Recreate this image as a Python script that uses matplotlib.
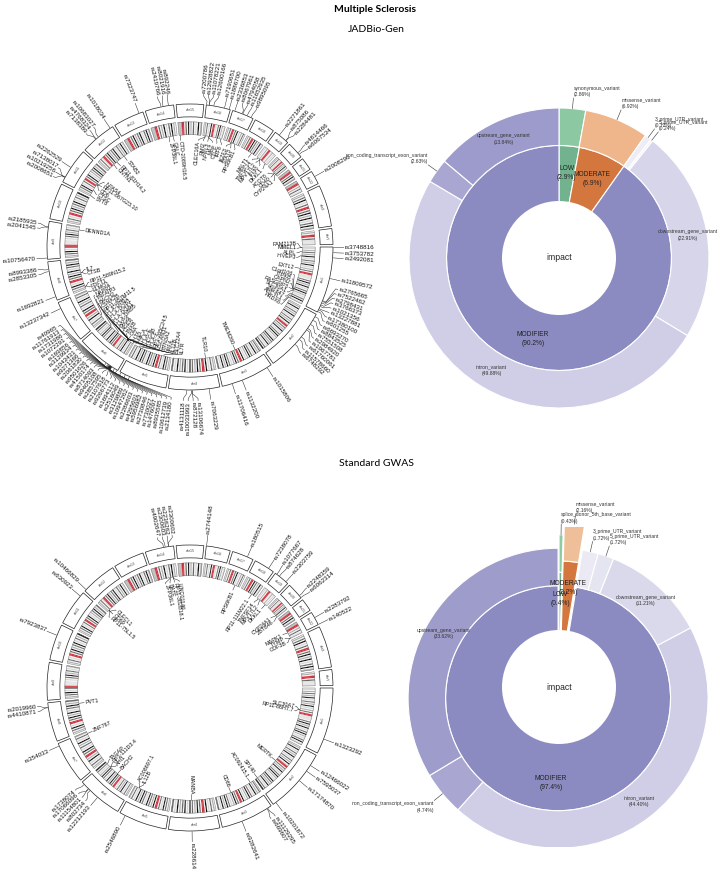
import numpy as np
import matplotlib.pyplot as plt
from matplotlib.patches import Wedge, Circle

plt.rcParams['font.family'] = ['Liberation Sans', 'DejaVu Sans']

# ---------------- genome (hg19, Mb) ----------------
chrom_names = ['chr%d' % i for i in range(1, 23)] + ['chrX', 'chrY']
chrom_len = [249.2, 243.2, 198.0, 191.2, 180.9, 171.1, 159.1, 146.4, 141.2, 135.5,
             135.0, 133.9, 115.2, 107.3, 102.5, 90.4, 81.2, 78.1, 59.1, 63.0,
             48.1, 51.3, 155.3, 59.4]
# rough G-banding, one char per equal slice
chrom_bands = [
    'wawbwcwbwdwawcwbwdwawbwcwrrvvvvwcwdwbwdwawcwdwbwawcwdwa',
    'wbwdwawcwbwdwawcwbwdwarrwcwbwdwawcwdwbwawdwcwbwdwawcwd',
    'wcwbwdwawcwdwbwawdwrrwcwdwbwawcwdwbwdwawc',
    'wbwcwawdwrrwcwdwbwcwdwawdwcwbwdwawc',
    'wbwcwdwawcwrrwdwbwcwdwawcwdwbwdwawcwb',
    'wbwcwawdwbwcwawrrwcwdwbwdwawcwdwbwawcwd',
    'wbwcwawdwbwrrwcwdwawcwbwdwawcwb',
    'wbwcwdwawrrwcwdwbwdwawcwdwbwc',
    'wbwcwdwawcrrvvvvwawcwdwbwcwawb',
    'wbwcwawrrwcwdwbwcwdwawcwbwd',
    'wbwcwdwawcwrrwcwdwawbwcwdwbwc',
    'wbwcwarrwcwdwbwcwdwawcwbwdwa',
    'sssrrwcwdwbwcwdwawcwdwb',
    'sssrrwcwbwdwawcwdwbw',
    'sssrrwcwdwbwcwawdwb',
    'wbwcwawdwrrvvwcwdwbwa',
    'wbwcwrrwcwdwawbwcw',
    'wbwcwrrwdwcwbwdwa',
    'wawbwrrvwbwaw',
    'wbwcwawrrwcwbwdwa',
    'ssrrwcwdwb',
    'ssrrwbwcwa',
    'wbwcwdwawcwrrwcwdwbwdwawcwdwb',
    'wbwrrwcvvvv',
]
band_colors = {'w': '#f6f6f6', 'a': '#d6d6d6', 'b': '#ababab', 'c': '#686868',
               'd': '#0a0a0a', 'r': '#d0303a', 'v': '#e4e4e4', 's': '#bdbdbd'}

# ---------------- JADBio-Gen ----------------
jad_snps = [
    (1, 2.5, 'rs3748816'), (1, 21.0, 'rs3753782'), (1, 40.0, 'rs2492081'), (1, 117.0, 'rs11809572'),
    (1, 203, 'rs2765665'), (1, 206, 'rs7522462'), (1, 212, 'rs2798431'), (1, 220, 'rs3766373'),
    (1, 226, 'rs1021356'), (1, 235, 'rs13227881'), (1, 240, 'rs17380100'), (1, 247, 'rs601255'),
    (2, 10, 'rs6693270'), (2, 25, 'rs8843525'), (2, 43, 'rs7551508'), (2, 61, 'rs2984920'),
    (2, 68, 'rs1967781'), (2, 100, 'rs61760061'), (2, 112, 'rs11578660'), (2, 136, 'rs6748292'),
    (3, 18, 'rs1015806'), (3, 121, 'rs1132200'), (3, 160, 'rs11706416'), (4, 40, 'rs7063229'),
    (4, 103, 'rs13106674'), (4, 103.5, 'rs872128'), (4, 106, 'rs10033993'), (4, 123, 'rs4131118'),
    (5, 141, 'rs2134180'), (5, 158, 'rs10612739'), (5, 176, 'rs8935585'), (6, 3, 'rs1476097'),
    (6, 14, 'rs7730027'), (6, 25.5, 'rs2730846'), (6, 26.1, 'rs5956982'), (6, 27.2, 'rs4295601'),
    (6, 28.3, 'rs2286603'), (6, 29.6, 'rs10947262'), (6, 29.9, 'rs3129889'), (6, 30.4, 'rs2516049'),
    (6, 30.9, 'rs1694112'), (6, 31.3, 'rs9266773'), (6, 31.6, 'rs2107618'), (6, 31.9, 'rs2857595'),
    (6, 32.2, 'rs9405108'), (6, 32.4, 'rs8714093'), (6, 32.6, 'rs4150174'), (6, 32.8, 'rs9501626'),
    (6, 33.0, 'rs2061830'), (6, 33.2, 'rs9271366'), (6, 33.5, 'rs1043431'), (6, 34.8, 'rs3129934'),
    (6, 36.0, 'rs169856'), (6, 37.5, 'rs1072291'), (6, 40.0, 'rs1731986'), (6, 43.0, 'rs11761913'),
    (6, 51, 'rs40965'),
    (7, 135, 'rs13237342'), (8, 14, 'rs1692821'), (8, 110, 'rs2853305'), (8, 118, 'rs8993386'),
    (9, 5, 'rs10756470'), (9, 118, 'rs2041545'), (9, 121, 'rs2185935'),
    (11, 18, 'rs2008651'), (11, 19, 'rs10219256'), (11, 20, 'rs7138017'), (11, 61, 'rs2262529'),
    (12, 56, 'rs7138389'), (12, 58, 'rs4768324'), (12, 69, 'rs10683027'), (12, 123, 'rs1018034'),
    (13, 100, 'rs7323747'), (14, 60, 'rs2419766'), (14, 68, 'rs8021916'), (14, 88, 'rs892246'),
    (16, 1, 'rs7200786'), (16, 11, 'rs12928822'), (16, 11.2, 'rs11078221'), (16, 28, 'rs12600166'),
    (16, 68, 'rs7190651'), (16, 86, 'rs1886700'), (17, 8, 'rs2336853'), (17, 37, 'rs8067961'),
    (17, 40, 'rs4794058'), (17, 57, 'rs11652935'), (17, 73, 'rs9895095'),
    (19, 18, 'rs2271861'), (19, 49, 'rs875086'), (19, 50, 'rs2284481'), (20, 44, 'rs4814466'),
    (20, 52, 'rs6067534'), (22, 22, 'rs2008296'),
]
jad_genes = [
    (1, 2.5, 'FAM213B'), (1, 2.6, 'MMEL1'), (1, 21.8, 'ALPL'), (1, 42, 'HIVEP3'), (1, 101, 'EXTL2'),
    (1, 200, 'C1orf106'), (1, 201, 'ITPKB'), (1, 203, 'CAPN2'), (1, 206, 'RASGRP3'),
    (1, 211, 'SLC30A1'), (1, 226, 'ZNF847'), (1, 236, 'AHCYL1'), (1, 247, 'PRDX6'),
    (3, 100, 'TMEM260'),
    (4, 38, 'TLR10'), (5, 35, 'IL7R'), (5, 142, 'SLC22A4'), (5, 158, 'IL12B'), (6, 3, 'IRF4'),
    (6, 26.4, 'BTN3A2'), (6, 27.8, 'ZSCAN31'), (6, 28.5, 'RP1-265C24.5'), (6, 29.7, 'HLA-F'),
    (6, 30.0, 'HCG4B'), (6, 30.5, 'HLA-E'), (6, 31.2, 'MICA'), (6, 31.5, 'LTA'), (6, 31.9, 'C4A'),
    (6, 32.0, 'TNXB'), (6, 32.15, 'AGER'), (6, 32.3, 'BAG6'), (6, 32.45, 'HLA-DRB5'),
    (6, 32.6, 'HLA-DQA1'), (6, 32.7, 'HLA-DQB1'), (6, 33.0, 'HLA-DPB1'), (6, 33.3, 'RP11-457M11.5'),
    (6, 35.0, 'CSNK2B'), (6, 90.9, 'BACH2'), (6, 138, 'TNFAIP3'), (7, 26, 'NAPRT'), (7, 150, 'ELMO1'),
    (8, 11.6, 'FDFT1'), (8, 11.7, 'RP11-589N15.2'), (8, 79, 'CTSB'), (8, 79.6, 'IL7'),
    (9, 126, 'DENND1A'),
    (11, 1.8, 'SYT8'), (11, 30, 'CTSC'), (11, 60.7, 'CD6'), (11, 62, 'RP11-867G23.10'), (11, 66, 'NPAS4'),
    (12, 41, 'CNTN1'), (12, 60, 'RP11-81H14.2'), (12, 104, 'STAB2'),
    (14, 69, 'ZFP36L1'), (14, 88, 'GALC'), (15, 5, 'CTD-2089H16.5'),
    (16, 11, 'CLEC16A'), (16, 11.3, 'RMI2'), (16, 28.5, 'NPRL3'), (16, 30, 'MAZ'), (16, 68, 'CTCF'),
    (16, 86, 'IRF8'), (17, 37, 'IKZF3'), (17, 40, 'STAT3'), (17, 57, 'RPS6KB1'),
    (18, 56, 'MALT1'), (19, 6.6, 'TNFSF14'), (19, 18.3, 'MPV17L2'), (19, 18.4, 'IFI30'),
    (19, 49.9, 'DKKL1'), (20, 44.5, 'ACOT8'), (20, 44.7, 'CD40'), (20, 52.8, 'CYP24A1'),
]
jad_impact = ['LOW', 'MODERATE', 'MODIFIER']
jad_impact_pct = [2.9, 6.9, 90.2]
jad_cons = ['synonymous_variant', 'missense_variant', '3_prime_UTR_variant', '5_prime_UTR_variant',
            'downstream_gene_variant', 'intron_variant', 'non_coding_transcript_exon_variant',
            'upstream_gene_variant']
jad_cons_pct = [2.86, 6.92, 0.72, 0.24, 22.91, 49.88, 2.63, 13.84]
jad_cons_parent = ['LOW', 'MODERATE', 'MODIFIER', 'MODIFIER', 'MODIFIER', 'MODIFIER', 'MODIFIER', 'MODIFIER']
jad_cons_colors = ['#8cc9a3', '#efb68c', '#eeedf6', '#f3f2f8', '#d6d5ea', '#cfcee6', '#a9a7d2', '#9d9bcb']

# ---------------- Standard GWAS ----------------
gwas_snps = [
    (1, 192.5, 'rs1323292'), (2, 43.3, 'rs12466022'), (2, 68.6, 'rs7595037'), (2, 112.7, 'rs17174870'),
    (2, 231.1, 'rs10201872'), (3, 15.1, 'rs11129295'), (3, 18.8, 'rs669607'), (3, 121.8, 'rs9282641'),
    (4, 103.5, 'rs228614'), (5, 158.8, 'rs2546890'), (6, 91.0, 'rs12212193'), (6, 128.3, 'rs802734'),
    (6, 135.7, 'rs11154801'), (6, 137.5, 'rs17066096'), (6, 159.5, 'rs1738074'), (7, 149.0, 'rs354033'),
    (8, 128.2, 'rs4410871'), (8, 129.2, 'rs2019960'), (10, 94.4, 'rs7923837'), (11, 118.7, 'rs630923'),
    (12, 6.4, 'rs10466829'), (14, 69.3, 'rs4902647'), (14, 75.9, 'rs2300603'), (14, 88.4, 'rs2236262'),
    (14, 88.5, 'rs2300602'), (16, 1.0, 'rs2744148'), (17, 57.8, 'rs180515'), (18, 56.4, 'rs7238078'),
    (19, 6.7, 'rs1077667'), (19, 18.3, 'rs874628'), (19, 49.9, 'rs2303759'), (20, 52.8, 'rs2248359'),
    (20, 62.4, 'rs6062314'), (22, 22.1, 'rs2283792'), (22, 50.9, 'rs140522'),
]
gwas_genes = [
    (1, 101.4, 'SLC30A7'), (1, 101.5, 'RP11-86H7.7'), (2, 112.7, 'MERTK'), (2, 231.0, 'SP140'),
    (3, 18.8, 'AC092415.1'), (3, 121.8, 'CD86'), (4, 103.5, 'MANBA'), (5, 158.7, 'IL12B'),
    (5, 158.8, 'AC008697.1'), (6, 91.0, 'BACH2'), (6, 135.7, 'AHI1'), (6, 137.5, 'RP1-111D3.4'),
    (6, 159.5, 'TAGAP'), (7, 149.0, 'ZNF767'), (8, 128.8, 'PVT1'), (12, 9.7, 'RP11-75L1.5'),
    (12, 9.8, 'CD69'), (12, 9.9, 'CLECL1'), (14, 69.3, 'ZFP36L1'), (14, 75.9, 'BATF'),
    (14, 88.4, 'RP11-302B18.1'), (14, 88.5, 'LINC01146'), (17, 57.8, 'RPS6KB1'),
    (18, 56.4, 'RP11-111M22.1'), (19, 6.7, 'TNFSF14'), (19, 18.3, 'MPV17L2'), (19, 49.9, 'DKKL1'),
    (20, 52.8, 'CYP24A1'), (20, 62.4, 'ZBTB46'), (22, 22.1, 'MAPK1'), (22, 50.9, 'TYMP'),
    (22, 50.95, 'ODF3B'),
]
gwas_impact = ['LOW', 'MODERATE', 'MODIFIER']
gwas_impact_pct = [0.4, 2.2, 97.4]
gwas_cons = ['splice_donor_5th_base_variant', 'missense_variant', '3_prime_UTR_variant',
             '5_prime_UTR_variant', 'downstream_gene_variant', 'intron_variant',
             'non_coding_transcript_exon_variant', 'upstream_gene_variant']
gwas_cons_pct = [0.43, 2.16, 1.72, 1.72, 11.21, 44.40, 4.74, 33.62]
gwas_cons_parent = ['LOW', 'MODERATE', 'MODIFIER', 'MODIFIER', 'MODIFIER', 'MODIFIER', 'MODIFIER', 'MODIFIER']
gwas_cons_colors = ['#8fcba0', '#eebf98', '#eae9f4', '#e5e4f1', '#dad9ec', '#cfcee6', '#a9a7d2', '#9e9cca']
gwas_explode = {'LOW': 0.015, 'MODERATE': 0.09, 'MODIFIER': 0.075}

impact_colors = {'LOW': '#72b28f', 'MODERATE': '#d3773f', 'MODIFIER': '#8b8bc2'}

# ---------------- geometry ----------------
GAP = 1.0
SCALE = (360.0 - GAP * len(chrom_len)) / sum(chrom_len)
chrom_start = []
acc = 0.0
for i, L in enumerate(chrom_len):
    chrom_start.append(acc * SCALE + i * GAP)
    acc += L


def cw_angle(chrom, mb):
    return chrom_start[chrom - 1] + mb * SCALE


def polar(r, cw):
    a = np.radians(-cw)
    return r * np.cos(a), r * np.sin(a)


def spread(targets, gap):
    order = np.argsort(targets)
    t = np.asarray(targets, dtype=float)[order]

    def span(g):
        c = t[g].mean()
        n = len(g)
        return c - (n - 1) * gap / 2, c + (n - 1) * gap / 2

    groups = [[i] for i in range(len(t))]
    merged = True
    while merged:
        merged = False
        new = [groups[0]]
        for g in groups[1:]:
            if span(g)[0] - span(new[-1])[1] < gap:
                new[-1] = new[-1] + g
                merged = True
            else:
                new.append(g)
        groups = new
    out = np.empty(len(t))
    for g in groups:
        lo = span(g)[0]
        for k, i in enumerate(g):
            out[order[i]] = lo + k * gap
    return out


def draw_ideogram(ax):
    for i, name in enumerate(chrom_names):
        a0 = chrom_start[i]
        a1 = a0 + chrom_len[i] * SCALE
        ax.add_patch(Wedge((0, 0), 1.0, -a1, -a0, width=0.09, fc='white', ec='#222222', lw=0.5))
        mid = (a0 + a1) / 2
        x, y = polar(0.955, mid)
        phi = -mid
        rot = phi - 90 if np.sin(np.radians(phi)) >= 0 else phi + 90
        ax.text(x, y, name, rotation=rot, ha='center', va='center', fontsize=2.6,
                color='#444444', rotation_mode='anchor')
        bands = chrom_bands[i]
        step = (a1 - a0) / len(bands)
        for k, ch in enumerate(bands):
            c = band_colors[ch]
            ax.add_patch(Wedge((0, 0), 0.875, -(a0 + (k + 1) * step), -(a0 + k * step),
                               width=0.09, fc=c, ec=c, lw=0.15))
        ax.add_patch(Wedge((0, 0), 0.875, -a1, -a0, width=0.09, fill=False, ec='#666666', lw=0.3))


def draw_labels(ax, items, outer, gap, fs):
    targets = [cw_angle(c, mb) for c, mb, _ in items]
    placed = spread(targets, gap)
    if outer:
        radii, rt = (1.005, 1.025, 1.06, 1.075), 1.082
    else:
        radii, rt = (0.782, 0.775, 0.755, 0.748), 0.742
    for (c, mb, name), tt, tl in zip(items, targets, placed):
        pts = [polar(radii[0], tt), polar(radii[1], tt), polar(radii[2], tl), polar(radii[3], tl)]
        xs, ys = zip(*pts)
        ax.plot(xs, ys, color='#222222', lw=0.35, clip_on=False)
        phi = -tl
        right = np.cos(np.radians(phi)) >= 0
        rot = phi if right else phi + 180
        if outer:
            ha = 'left' if right else 'right'
        else:
            ha = 'right' if right else 'left'
        x, y = polar(rt, tl)
        ax.text(x, y, name, rotation=rot, rotation_mode='anchor', ha=ha, va='center',
                fontsize=fs, color='#111111', clip_on=False)


def draw_circos(ax, snps, genes):
    draw_ideogram(ax)
    draw_labels(ax, snps, True, 1.85, 4.5)
    draw_labels(ax, genes, False, 2.45, 3.9)


def draw_sunburst(ax, impact, impact_pct, cons, cons_pct, cons_parent, cons_colors, explode):
    offsets = {}
    total = sum(impact_pct)
    start = 0.0
    for name, p in zip(impact, impact_pct):
        a0 = 90 - start / total * 360
        a1 = 90 - (start + p) / total * 360
        mid = np.radians((a0 + a1) / 2)
        d = explode.get(name, 0.0)
        off = (d * np.cos(mid), d * np.sin(mid))
        offsets[name] = off
        ax.add_patch(Wedge(off, 0.75, a1, a0, fc=impact_colors[name], ec='white', lw=0.8))
        ax.text(off[0] + 0.57 * np.cos(mid), off[1] + 0.57 * np.sin(mid),
                '%s\n(%.1f%%)' % (name, p), ha='center', va='center', fontsize=4.8,
                color='#222222', linespacing=1.4, zorder=4)
        start += p
    total = sum(cons_pct)
    start = 0.0
    for name, p, parent, col in zip(cons, cons_pct, cons_parent, cons_colors):
        a0 = 90 - start / total * 360
        a1 = 90 - (start + p) / total * 360
        mid = np.radians((a0 + a1) / 2)
        ox, oy = offsets[parent]
        ax.add_patch(Wedge((ox, oy), 1.0, a1, a0, width=0.25, fc=col, ec='white', lw=0.8))
        txt = '%s\n(%.2f%%)' % (name, p)
        cx, cy = np.cos(mid), np.sin(mid)
        if p >= 10:
            ax.text(ox + 0.875 * cx, oy + 0.875 * cy, txt, ha='center', va='center',
                    fontsize=3.6, color='#333333', linespacing=1.4, zorder=4)
        else:
            ax.plot([ox + 1.0 * cx, ox + 1.07 * cx], [oy + 1.0 * cy, oy + 1.07 * cy],
                    color='#333333', lw=0.4, clip_on=False)
            ha = 'left' if cx >= 0 else 'right'
            va = 'bottom' if cy >= 0 else 'top'
            ax.text(ox + 1.075 * cx, oy + 1.075 * cy, txt, ha=ha, va=va, multialignment=ha,
                    fontsize=3.6, color='#333333', linespacing=1.4, clip_on=False, zorder=4)
        start += p
    ax.add_patch(Circle((0, 0), 0.38, fc='white', ec='none', zorder=3))
    ax.text(0, 0, 'impact', ha='center', va='center', fontsize=6.2, color='#222222', zorder=5)


# ---------------- figure ----------------
W, H = 720, 872
fig = plt.figure(figsize=(W / 100, H / 100), dpi=100)
fig.patch.set_facecolor('white')


def panel(cx, cy, half, unit):
    ax = fig.add_axes([(cx - half) / W, 1 - (cy + half) / H, 2 * half / W, 2 * half / H])
    lim = half / unit
    ax.set_xlim(-lim, lim)
    ax.set_ylim(-lim, lim)
    ax.set_aspect('equal')
    ax.axis('off')
    return ax


ax1 = panel(190, 247, 184, 143)
draw_circos(ax1, jad_snps, jad_genes)
ax2 = panel(559, 258, 160, 150)
draw_sunburst(ax2, jad_impact, jad_impact_pct, jad_cons, jad_cons_pct, jad_cons_parent,
              jad_cons_colors, {})
ax3 = panel(190, 688, 184, 143)
draw_circos(ax3, gwas_snps, gwas_genes)
ax4 = panel(559, 687, 160, 150)
draw_sunburst(ax4, gwas_impact, gwas_impact_pct, gwas_cons, gwas_cons_pct, gwas_cons_parent,
              gwas_cons_colors, gwas_explode)

fig.text(375 / W, 1 - 10 / H, 'Multiple Sclerosis', ha='center', va='center', fontsize=7.5,
         fontweight='bold', family=['Lato', 'DejaVu Sans'])
fig.text(376 / W, 1 - 30 / H, 'JADBio-Gen', ha='center', va='center', fontsize=7.5,
         family=['Lato', 'DejaVu Sans'])
fig.text(376 / W, 1 - 463 / H, 'Standard GWAS', ha='center', va='center', fontsize=7.5,
         family=['Lato', 'DejaVu Sans'])

fig.savefig('out.png', dpi=100, facecolor='white')
